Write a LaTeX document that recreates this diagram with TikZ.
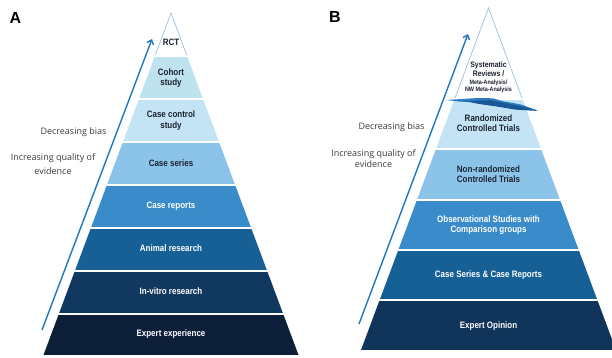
\documentclass[tikz,border=0pt]{standalone}
\usepackage{fontspec}
\usepackage{tikz}
\usepackage{xcolor}
\usetikzlibrary{arrows.meta}

\newfontfamily\pyrfont[FakeStretch=0.86]{Liberation Sans}
\newfontfamily\panelfont{Liberation Sans}
\newfontfamily\sidefont{Open Sans}

\definecolor{tipline}{RGB}{166,195,227}
\definecolor{cohortfill}{RGB}{190,227,238}
\definecolor{palefill}{RGB}{196,228,246}
\definecolor{skyfill}{RGB}{140,196,233}
\definecolor{midfill}{RGB}{57,140,201}
\definecolor{deepfill}{RGB}{23,96,150}
\definecolor{navyfill}{RGB}{17,56,95}
\definecolor{nightfill}{RGB}{12,30,56}
\definecolor{opinionfill}{RGB}{17,52,90}
\definecolor{darktext}{RGB}{28,34,48}
\definecolor{sidegrey}{RGB}{60,60,60}
\definecolor{arrowblue}{RGB}{31,119,190}
\definecolor{wavedark}{RGB}{24,88,150}
\definecolor{wavemid}{RGB}{45,122,192}

\tikzset{
  tiertext/.style={font=\pyrfont\bfseries\fontsize{9.3}{10.5}\selectfont, align=center, text=darktext, inner sep=0pt},
  tierwhite/.style={tiertext, text=white},
  sidetext/.style={font=\sidefont\fontsize{9}{14}\selectfont, align=center, text=sidegrey, inner sep=0pt},
  panellabel/.style={font=\panelfont\bfseries\fontsize{16}{16}\selectfont, text=black, inner sep=0pt},
  biasarrow/.style={draw=arrowblue, line width=1.4pt, -{Straight Barb[length=4pt,width=7pt]}},
  tipedge/.style={draw=tipline, line width=0.8pt}
}

\begin{document}
\begin{tikzpicture}[x=1pt,y=-1pt]
    \useasboundingbox (0,0) rectangle (612,357);

    % Panel A
    \node[panellabel] (labelA) at (15.5,17.5) {A};
    \begin{scope}
        \clip (43.5,355) -- (171,13) -- (298.5,355) -- cycle;
        \fill[cohortfill] (0,57) rectangle (612,98); % cohort
        \fill[palefill] (0,100) rectangle (612,141); % case control
        \fill[skyfill] (0,143) rectangle (612,184); % case series
        \fill[midfill] (0,186) rectangle (612,227); % case reports
        \fill[deepfill] (0,229) rectangle (612,270); % animal
        \fill[navyfill] (0,272) rectangle (612,313); % in-vitro
        \fill[nightfill] (0,315) rectangle (612,355); % expert
    \end{scope}
    \draw[tipedge] (155.3,55) -- (171,13) -- (186.7,55); % white tip

    \node[tiertext] (rct) at (171,42) {RCT};
    \node[tiertext] (cohort) at (171,78) {Cohort\\study};
    \node[tiertext] (casecontrol) at (171,120.5) {Case control\\study};
    \node[tiertext] (caseseries) at (171,163.5) {Case series};
    \node[tierwhite] (casereports) at (171,206) {Case reports};
    \node[tierwhite] (animal) at (171,248) {Animal research};
    \node[tierwhite] (invitro) at (171,291) {In-vitro research};
    \node[tierwhite] (expertexp) at (171,334) {Expert experience};

    \node[sidetext] (biasA) at (73.5,132) {Decreasing bias};
    \node[sidetext] (qualityA) at (53,164) {Increasing quality of\\evidence};
    \coordinate (footA) at (42,330);
    \coordinate (tipA) at (152,39);
    \draw[biasarrow] (footA) -- (tipA);

    % Panel B
    \node[panellabel] (labelB) at (335,16.5) {B};
    \begin{scope}
        \clip (361,350) -- (488.5,8) -- (616,350) -- cycle;
        \fill[palefill] (300,100) rectangle (640,148); % randomized
        \fill[skyfill] (300,150) rectangle (640,199); % non-randomized
        \fill[midfill] (300,201) rectangle (640,249); % observational
        \fill[deepfill] (300,251) rectangle (640,299); % case series and reports
        \fill[opinionfill] (300,301) rectangle (640,350); % expert opinion
    \end{scope}
    \draw[tipedge] (455,98) -- (488.5,8) -- (522,98); % white tip

    % jagged band over the top boundary
    \fill[wavemid] (446,100) -- (478,98) -- (493,98.3) -- (502,101) -- (521,104.5) -- (538,110.5)
        -- (521,108) -- (500,104.5) -- (484,103) -- (460,101.6) -- cycle;
    \fill[wavedark] (466,101.2) -- (489,100.2) -- (505,103) -- (524,107) -- (538,111)
        -- (515,109.6) -- (495,106.2) -- (479,104) -- cycle;

    \node[tiertext, font=\pyrfont\bfseries\fontsize{8}{9}\selectfont] (sysrev) at (488.5,77)
        {Systematic\\Reviews /\\[-1.5pt]{\fontsize{6.3}{7}\selectfont Meta-Analysis/}\\[-2pt]{\fontsize{6.3}{7}\selectfont NW Meta-Analysis}};
    \node[tiertext] (randomized) at (488.5,123) {Randomized\\Controlled Trials};
    \node[tiertext] (nonrandom) at (488.5,174) {Non-randomized\\Controlled Trials};
    \node[tierwhite] (observational) at (488.5,225) {Observational Studies with\\Comparison groups};
    \node[tierwhite] (seriesreports) at (488.5,275) {Case Series \& Case Reports};
    \node[tierwhite] (opinion) at (488.5,326) {Expert Opinion};

    \node[sidetext] (biasB) at (391.5,127) {Decreasing bias};
    \node[sidetext, font=\sidefont\fontsize{9}{11}\selectfont] (qualityB) at (373.5,158.5) {Increasing quality of\\evidence};
    \coordinate (footB) at (359,324);
    \coordinate (tipB) at (468,34);
    \draw[biasarrow] (footB) -- (tipB);
\end{tikzpicture}
\end{document}
